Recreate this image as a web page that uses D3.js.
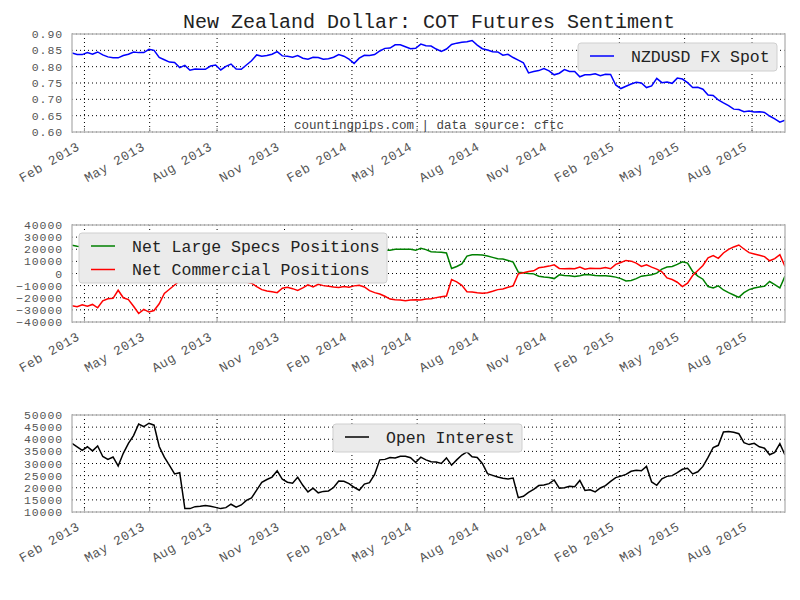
<!DOCTYPE html>
<html>
<head>
<meta charset="utf-8">
<script src="https://cdn.jsdelivr.net/npm/d3@7/dist/d3.min.js"></script>
<style>
    body { margin: 0; background: #fff; }
    text { font-family: "Liberation Mono", "Courier New", monospace; }
</style>
</head>
<body>
<div id="container"></div>
<script>
// weekly COT report dates (Tuesdays), Jan 15 2013 .. Sep 15 2015
var firstDate = new Date(2013, 0, 15);
var lastDate = new Date(2015, 8, 16);

var spot = [
    0.842, 0.837, 0.837, 0.843, 0.838, 0.845, 0.836, 0.830, 0.827, 0.827,
    0.834, 0.838, 0.845, 0.843, 0.843, 0.853, 0.850, 0.828, 0.821, 0.814,
    0.813, 0.797, 0.804, 0.789, 0.793, 0.792, 0.792, 0.802, 0.805, 0.790,
    0.801, 0.808, 0.793, 0.792, 0.805, 0.818, 0.836, 0.832, 0.834, 0.838,
    0.846, 0.833, 0.832, 0.829, 0.834, 0.826, 0.823, 0.829, 0.828, 0.823,
    0.824, 0.829, 0.837, 0.832, 0.823, 0.810, 0.826, 0.835, 0.834, 0.837,
    0.848, 0.856, 0.857, 0.867, 0.867, 0.861, 0.855, 0.856, 0.869, 0.864,
    0.863, 0.854, 0.847, 0.854, 0.868, 0.872, 0.875, 0.876, 0.880, 0.866,
    0.855, 0.851, 0.846, 0.845, 0.835, 0.838, 0.828, 0.820, 0.812, 0.781,
    0.785, 0.788, 0.794, 0.787, 0.775, 0.780, 0.791, 0.785, 0.785, 0.769,
    0.775, 0.775, 0.778, 0.772, 0.777, 0.776, 0.744, 0.733, 0.740, 0.747,
    0.752, 0.750, 0.736, 0.741, 0.764, 0.751, 0.753, 0.749, 0.765, 0.762,
    0.751, 0.736, 0.737, 0.731, 0.713, 0.712, 0.698, 0.689, 0.681, 0.670,
    0.669, 0.662, 0.664, 0.661, 0.662, 0.660, 0.649, 0.640, 0.630, 0.636
];

var largeSpecs = [
    23300, 22500, 22000, 23000, 21500, 24000, 19000, 17500, 17000, 11000,
    16500, 18000, 23000, 28000, 25500, 27000, 26000, 21000, 13000, 10000,
    7000, 4000, 2000, 0, 1000, -1000, 0, -2000, 0, 2000,
    1000, 3000, 2000, 4000, 5000, 6000, 8800, 11300, 12400, 13000,
    13800, 10200, 9400, 10500, 11900, 9900, 7400, 9100, 6900, 8000,
    8500, 9100, 9600, 8800, 9400, 8200, 7700, 9100, 12100, 13800,
    14900, 19100, 19100, 19900, 19900, 19900, 19900, 19100, 20800, 19700,
    18000, 17700, 17500, 16900, 4200, 5800, 8000, 14400, 15500, 15500,
    15200, 14400, 13300, 12200, 11900, 10800, 9400, 1100, 600, 0,
    -300, -2200, -2800, -3300, -4200, -1100, -1700, -1900, -2500, -1900,
    -800, -1100, -1700, -1900, -1900, -2200, -3000, -4200, -6100, -5800,
    -4200, -2200, -1700, -1100, 300, 3600, 5300, 5800, 7500, 9700,
    8600, 1700, -2200, -4700, -10800, -11900, -10200, -13600, -15800, -17700,
    -19700, -15800, -13300, -11900, -11100, -10500, -6600, -9100, -11900, -2200
];

var commercial = [
    -26600, -27400, -25800, -27000, -25500, -28300, -22500, -20800, -20500, -13800,
    -20000, -21500, -27000, -33000, -29600, -31800, -30500, -25000, -16500, -13000,
    -9500, -6000, -4000, -2000, -3000, -1000, -2000, 0, -2000, -4000,
    -3000, -5000, -4000, -6000, -7000, -8000, -10800, -13300, -14400, -15000,
    -15800, -12200, -11400, -12500, -13900, -11900, -9400, -11100, -8900, -10000,
    -10500, -11100, -11600, -10800, -11400, -10200, -9700, -11100, -14100, -15800,
    -16900, -18800, -21100, -21600, -21900, -22400, -21900, -21600, -21900, -21000,
    -20800, -19900, -19100, -18600, -5000, -6900, -9700, -15000, -15200, -15800,
    -16300, -15800, -14700, -13300, -12700, -11400, -10200, -300, 600, 1700,
    2200, 4700, 5300, 6100, 7200, 4200, 3900, 4200, 3900, 5300,
    3600, 4400, 4200, 4200, 5000, 3900, 7500, 9100, 10800, 10200,
    8600, 5800, 7200, 5300, 3600, 1400, -3600, -5000, -7200, -10800,
    -8000, -1700, 2500, 6600, 13000, 14700, 12500, 16900, 19900, 21900,
    23500, 20200, 17200, 16100, 15000, 13900, 10500, 12200, 15500, 5800
];

var openInterest = [
    38300, 36900, 35400, 36900, 35200, 37200, 32900, 31700, 32700, 29000,
    34200, 38300, 41500, 46300, 45200, 46600, 45800, 37000, 32600, 29200,
    25700, 26200, 11400, 11400, 12200, 12400, 12700, 12400, 11900, 11400,
    11800, 13200, 12000, 12900, 14800, 15800, 19000, 22200, 23400, 24400,
    27000, 23500, 22300, 21900, 24300, 21000, 18300, 19800, 17900, 18500,
    18700, 20100, 22800, 22700, 21700, 20200, 19000, 21500, 22100, 25500,
    31500, 31700, 32500, 32300, 33000, 33000, 32400, 30400, 32600, 31500,
    30700, 30600, 30000, 32300, 29300, 31500, 33500, 34800, 32800, 32500,
    30000, 25800, 25100, 24400, 23900, 23600, 24000, 15900, 16500, 18100,
    19300, 20900, 21100, 21700, 23200, 19800, 20000, 20600, 20400, 23000,
    18900, 19200, 18300, 19900, 20900, 22600, 24200, 24800, 25500, 26800,
    27200, 27000, 28800, 22400, 21000, 23700, 24700, 25000, 26200, 27600,
    28000, 25700, 26600, 28800, 32500, 36600, 37500, 43000, 43200, 42900,
    42300, 38600, 37800, 38300, 36900, 36300, 33600, 34600, 38200, 33500
];

var spotTicks = [0.60, 0.65, 0.70, 0.75, 0.80, 0.85, 0.90];
var positionTicks = [-40000, -30000, -20000, -10000, 0, 10000, 20000, 30000, 40000];
var interestTicks = [10000, 15000, 20000, 25000, 30000, 35000, 40000, 45000, 50000];

var COT = {
    WIDTH: 800,
    HEIGHT: 600,
    X_MIN: 72,
    X_MAX: 785
};

var svg;
var dates = d3.timeTuesday.range(firstDate, lastDate);
var x = d3.scaleTime().domain([dates[0], dates[dates.length - 1]]).range([COT.X_MIN, COT.X_MAX]);
var monthTicks = d3.timeMonth.range(firstDate, lastDate).filter(function (d) {
    return d.getMonth() % 3 === 1;
});

svg = d3.select("#container").append("svg")
        .attr("width", COT.WIDTH)
        .attr("height", COT.HEIGHT);

svg.append("text")
        .attr("x", 429)
        .attr("y", 28)
        .attr("text-anchor", "middle")
        .attr("font-size", "20px")
        .attr("fill", "#222")
        .text("New Zealand Dollar: COT Futures Sentiment");

drawPanel(34, 132, spotTicks, d3.format(".2f"),
        [{values: spot, color: "#0000ff", label: "NZDUSD FX Spot"}],
        {x: 578, y: 43, w: 199, h: 28});
drawPanel(225, 322, positionTicks, d3.format("d"),
        [{values: largeSpecs, color: "#008000", label: "Net Large Specs Positions"},
         {values: commercial, color: "#ff0000", label: "Net Commercial Positions"}],
        {x: 79, y: 233, w: 308, h: 50});
drawPanel(415, 512, interestTicks, d3.format("d"),
        [{values: openInterest, color: "#000000", label: "Open Interest"}],
        {x: 333, y: 424, w: 189, h: 28});

svg.append("text")
        .attr("x", 429)
        .attr("y", 129)
        .attr("text-anchor", "middle")
        .attr("font-size", "12.5px")
        .attr("fill", "#444")
        .text("countingpips.com | data source: cftc");

function drawPanel(top, bottom, ticks, fmt, series, legend) {
    var y = d3.scaleLinear().domain([ticks[0], ticks[ticks.length - 1]]).range([bottom, top]);
    var g = svg.append("g");

    // grid
    g.selectAll(".hgrid").data(ticks).enter().append("line")
            .attr("x1", COT.X_MIN).attr("x2", COT.X_MAX)
            .attr("y1", function (d) { return y(d); })
            .attr("y2", function (d) { return y(d); })
            .style("stroke", "#000")
            .style("stroke-width", "1")
            .style("stroke-dasharray", "1,3");
    g.selectAll(".vgrid").data(monthTicks).enter().append("line")
            .attr("x1", function (d) { return x(d); })
            .attr("x2", function (d) { return x(d); })
            .attr("y1", top).attr("y2", bottom)
            .style("stroke", "#000")
            .style("stroke-width", "1")
            .style("stroke-dasharray", "1,3");

    // y labels
    g.selectAll(".ylab").data(ticks).enter().append("text")
            .attr("x", 63)
            .attr("y", function (d) { return y(d); })
            .attr("dy", "0.35em")
            .attr("text-anchor", "end")
            .attr("font-size", "11.5px")
            .attr("letter-spacing", "0.9px")
            .attr("fill", "#555")
            .text(fmt);

    // x labels
    g.selectAll(".xlab").data(monthTicks).enter().append("text")
            .attr("transform", function (d) {
                return "translate(" + (x(d) - 4) + "," + (bottom + 17) + ") rotate(-30)";
            })
            .attr("text-anchor", "end")
            .attr("font-size", "13px")
            .attr("letter-spacing", "0.6px")
            .attr("fill", "#555")
            .text(d3.timeFormat("%b %Y"));

    // bottom ticks
    g.selectAll(".xtick").data(monthTicks).enter().append("line")
            .attr("x1", function (d) { return x(d); })
            .attr("x2", function (d) { return x(d); })
            .attr("y1", bottom).attr("y2", bottom - 4)
            .style("stroke", "#999");

    var line = d3.line()
            .x(function (d, i) { return x(dates[i]); })
            .y(function (d) { return y(d); });

    var clipId = "clip" + top;
    svg.append("clipPath").attr("id", clipId).append("rect")
            .attr("x", COT.X_MIN).attr("y", top)
            .attr("width", COT.X_MAX - COT.X_MIN).attr("height", bottom - top);

    series.forEach(function (s) {
        g.append("path")
                .attr("d", line(s.values))
                .attr("clip-path", "url(#" + clipId + ")")
                .style("fill", "none")
                .style("stroke", s.color)
                .style("stroke-width", "1.5");
    });

    // frame
    g.append("rect")
            .attr("x", COT.X_MIN).attr("y", top)
            .attr("width", COT.X_MAX - COT.X_MIN).attr("height", bottom - top)
            .style("fill", "none")
            .style("stroke", "#bcbcbc")
            .style("stroke-width", "1.5");

    // legend
    var lg = g.append("g");
    lg.append("rect")
            .attr("x", legend.x).attr("y", legend.y)
            .attr("width", legend.w).attr("height", legend.h)
            .attr("rx", 3)
            .style("fill", "#ebebeb")
            .style("stroke", "#cfcfcf")
            .style("stroke-width", "1");
    series.forEach(function (s, i) {
        var ly = legend.y + 13 + i * 23.5;
        lg.append("line")
                .attr("x1", legend.x + 12).attr("x2", legend.x + 36)
                .attr("y1", ly).attr("y2", ly)
                .style("stroke", s.color)
                .style("stroke-width", "1.5");
        lg.append("text")
                .attr("x", legend.x + 53)
                .attr("y", ly + 5.5)
                .attr("font-size", "16.5px")
                .attr("fill", "#222")
                .text(s.label);
    });
}
</script>
</body>
</html>
